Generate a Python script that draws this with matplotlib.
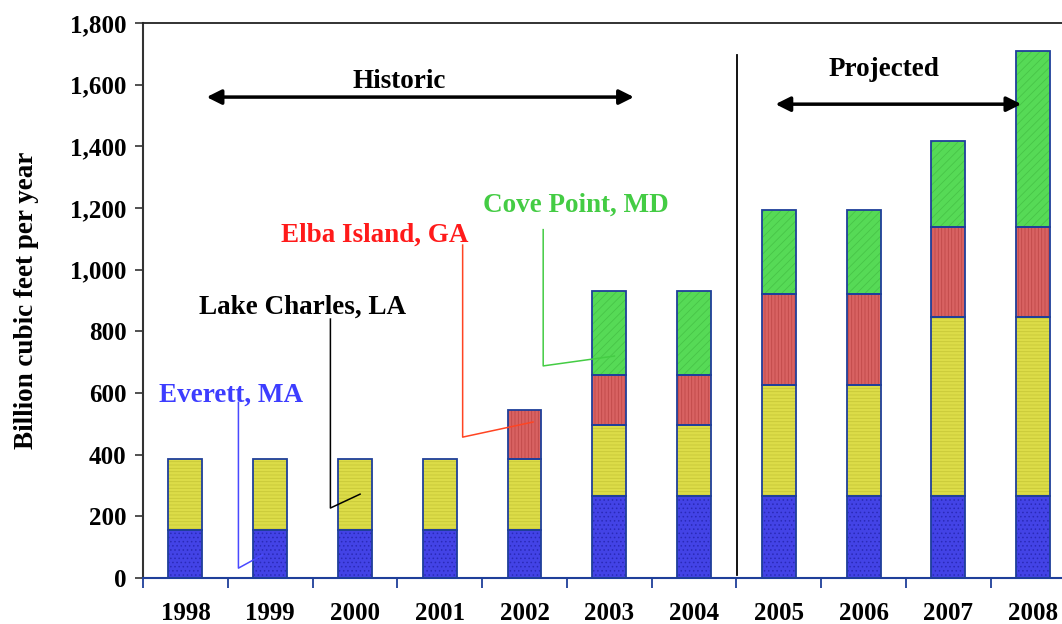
import numpy as np
import matplotlib
matplotlib.use("Agg")
import matplotlib.pyplot as plt
from matplotlib.ticker import FuncFormatter, MultipleLocator

plt.rcParams["font.family"] = ["Liberation Serif", "DejaVu Serif"]
plt.rcParams["font.weight"] = "bold"
plt.rcParams["hatch.linewidth"] = 0.6

# ── Données (Bcf/an) ─────────────────────────────────────────────────────────
years = ["1998", "1999", "2000", "2001", "2002", "2003", "2004",
         "2005", "2006", "2007", "2008"]
everett = [155, 155, 155, 155, 155, 265, 265, 265, 265, 265, 265]
lake_charles = [230, 230, 230, 230, 230, 232, 232, 362, 362, 583, 583]
elba_island = [0, 0, 0, 0, 160, 160, 160, 295, 295, 292, 292]
cove_point = [0, 0, 0, 0, 0, 275, 275, 273, 273, 276, 570]

series = [
    ("Everett, MA", everett, "#4343e6", "#2a2ab8", "...."),
    ("Lake Charles, LA", lake_charles, "#dcdc48", "#c8c838", "-----"),
    ("Elba Island, GA", elba_island, "#d86262", "#c04848", "|||||"),
    ("Cove Point, MD", cove_point, "#56da56", "#48c448", "////"),
]

# étiquettes : (texte, couleur, position texte, ligne de rappel)
callouts = [
    ("Everett, MA", "#3d3dff", (0.54, 594), [(0.625, 570), (0.625, 32), (0.91, 75)], "#4a4aff"),
    ("Lake Charles, LA", "black", (1.38, 879), [(1.71, 840), (1.71, 227), (2.06, 272)], "black"),
    ("Elba Island, GA", "#ff1a1a", (2.23, 1113), [(3.27, 1080), (3.27, 457), (4.10, 506)], "#ff4422"),
    ("Cove Point, MD", "#44cc44", (4.61, 1210), [(4.22, 1130), (4.22, 688), (5.06, 720)], "#44cc44"),
]

x = np.arange(len(years))
width = 0.4
edge = "#1f3f9a"

fig = plt.figure(figsize=(10.62, 6.24), dpi=100)
ax = fig.add_axes([0.1347, 0.0737, 0.8653, 0.8893])

bottom = np.zeros(len(years))
for name, vals, face, hcol, hatch in series:
    vals = np.array(vals, dtype=float)
    mask = vals > 0
    ax.bar(x[mask], vals[mask], width, bottom=bottom[mask], color=face,
           edgecolor=hcol, hatch=hatch, linewidth=0, zorder=2)
    ax.bar(x[mask], vals[mask], width, bottom=bottom[mask], fill=False,
           edgecolor=edge, linewidth=1.3, zorder=3)
    bottom += vals

# callouts
for label, tcol, (tx, ty), pts, lcol in callouts:
    ax.text(tx, ty, label, color=tcol, fontsize=19.5, fontweight="bold",
            ha="center", va="center", zorder=5)
    xs, ys = zip(*pts)
    ax.plot(xs, ys, color=lcol, linewidth=1.1, zorder=4)

# séparation historique / projeté
ax.plot([6.51, 6.51], [10, 1695], color="black", linewidth=1.3, zorder=4)
ax.annotate("", xy=(0.25, 1560), xytext=(5.29, 1560),
            arrowprops=dict(arrowstyle="<|-|>", color="black", lw=2.5,
                            mutation_scale=22, shrinkA=0, shrinkB=0))
ax.text(2.52, 1612, "Historic", fontsize=19.5, fontweight="bold",
        ha="center", va="center")
ax.annotate("", xy=(6.96, 1537), xytext=(9.86, 1537),
            arrowprops=dict(arrowstyle="<|-|>", color="black", lw=2.5,
                            mutation_scale=22, shrinkA=0, shrinkB=0))
ax.text(8.24, 1648, "Projected", fontsize=19.5, fontweight="bold",
        ha="center", va="center")

ax.set_xticks(x)
ax.set_xticklabels(years, fontsize=18, fontweight="bold")
ax.set_xticks(np.arange(-0.5, 10.6, 1), minor=True)
ax.set_xlim(-0.5, 10.34)
ax.set_ylim(0, 1800)
ax.tick_params(axis="x", which="major", length=0, pad=17)
ax.tick_params(axis="x", which="minor", length=7, width=1.3, color=edge)
ax.yaxis.set_major_locator(MultipleLocator(200))
ax.yaxis.set_major_formatter(FuncFormatter(lambda v, p: f"{int(v):,}"))
ax.tick_params(axis="y", length=6, width=1.2, color="#333333", labelsize=18,
               pad=6)
for t in ax.get_yticklabels():
    t.set_fontweight("bold")
ax.set_ylabel("Billion cubic feet per year", fontsize=19.5, fontweight="bold",
              labelpad=22)

ax.spines["right"].set_visible(False)
ax.spines["left"].set_color("#333333")
ax.spines["left"].set_linewidth(1.5)
ax.spines["bottom"].set_color(edge)
ax.spines["bottom"].set_linewidth(1.5)
ax.spines["top"].set_color("#222222")
ax.spines["top"].set_linewidth(1.3)

fig.savefig("out.png", dpi=100)
